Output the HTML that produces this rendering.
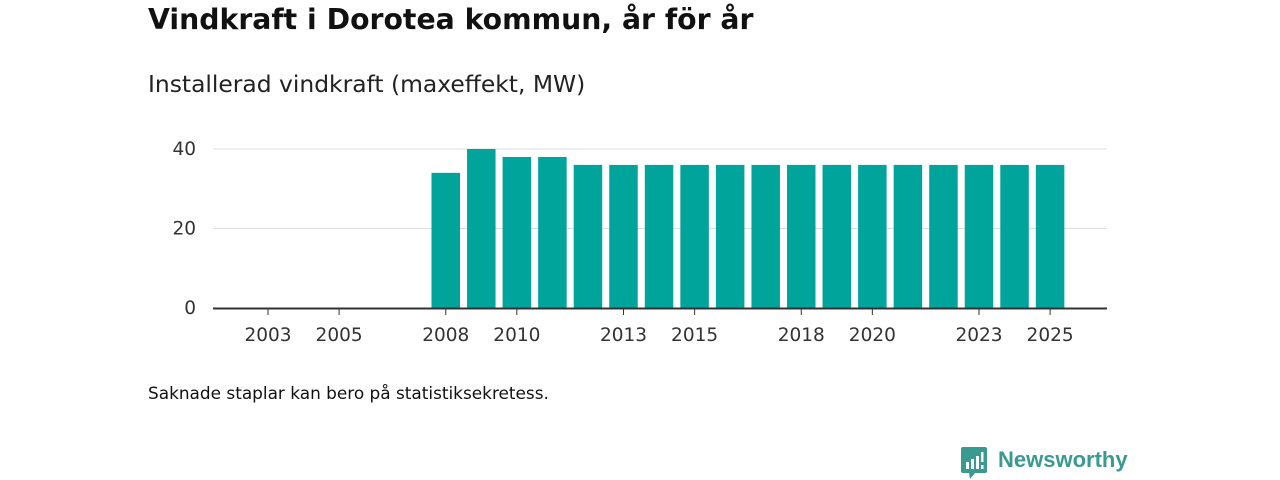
<!DOCTYPE html>
<html><head><meta charset="utf-8"><style>
body{margin:0;width:1280px;height:480px;background:#fff;font-family:"DejaVu Sans","Liberation Sans",sans-serif;overflow:hidden;position:relative}
.t{position:absolute;left:148px;top:3px;font-size:28.3px;font-weight:bold;color:#111}
.s{position:absolute;left:148px;top:70px;font-size:23.4px;color:#222}
.n{position:absolute;left:148px;top:383px;font-size:16.9px;color:#111}
</style></head><body>
<div class="t">Vindkraft i Dorotea kommun, år för år</div>
<div class="s">Installerad vindkraft (maxeffekt, MW)</div>
<svg id="c" width="1280" height="480" style="position:absolute;left:0;top:0"></svg>
<div class="n">Saknade staplar kan bero på statistiksekretess.</div>
<div style="position:absolute;left:961px;top:447px;height:32px">
<svg width="28" height="32" style="position:absolute;left:0;top:0"><path d="M0 2 Q0 0 2 0 H24 Q26 0 26 2 V24 Q26 26 24 26 H14 L9 32 L8 26 H2 Q0 26 0 24Z" fill="#3a9a8f"/><rect x="5" y="15" width="3" height="7" fill="#fff"/><rect x="10" y="12" width="3" height="10" fill="#fff"/><rect x="15" y="9" width="3" height="13" fill="#fff"/><rect x="20" y="5" width="2.5" height="10" fill="#fff"/><rect x="20" y="18" width="2.5" height="4" fill="#fff"/></svg>
<span style="position:absolute;left:37px;top:0px;font-size:22px;font-weight:bold;color:#3a9a8f;font-family:'Liberation Sans',sans-serif">Newsworthy</span></div>
<script>
const years=[2003,2004,2005,2006,2007,2008,2009,2010,2011,2012,2013,2014,2015,2016,2017,2018,2019,2020,2021,2022,2023,2024,2025];
const values=[null,null,null,null,null,34,40,38,38,36,36,36,36,36,36,36,36,36,36,36,36,36,36];
const yTicks=[0,20,40];
const xTicks=[2003,2005,2008,2010,2013,2015,2018,2020,2023,2025];
const svg=document.getElementById('c');const NS='http://www.w3.org/2000/svg';
const x=v=>268+(v-2003)*35.55, y=v=>308-v*3.975, bw=28.5;
function mk(t,a){const e=document.createElementNS(NS,t);for(const k in a)e.setAttribute(k,a[k]);svg.appendChild(e);return e;}
yTicks.forEach(t=>{if(t>0){const l=mk('line',{x1:213,x2:1107,y1:y(t),y2:y(t),stroke:'#ddd','stroke-width':1});}
const tx=mk('text',{x:196,y:y(t)+6,'text-anchor':'end','font-size':18.5,fill:'#333'});tx.textContent=t;});
years.forEach((yr,i)=>{const v=values[i];if(v==null)return;const r=mk('rect',{x:x(yr)-bw/2,y:y(v),width:bw,height:y(0)-y(v),fill:'#00a49a'});});
const ax=mk('line',{x1:213,x2:1107,y1:308.5,y2:308.5,stroke:'#333','stroke-width':2});
xTicks.forEach(t=>{const tk=mk('line',{x1:x(t),x2:x(t),y1:309,y2:315,stroke:'#333','stroke-width':1});
const tx=mk('text',{x:x(t),y:341,'text-anchor':'middle','font-size':18.5,fill:'#333'});tx.textContent=t;});
</script>
</body></html>
